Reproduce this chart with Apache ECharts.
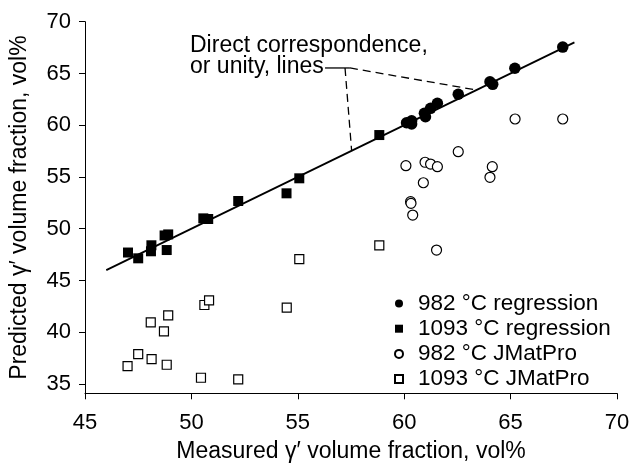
<!DOCTYPE html>
<html>
<head>
<meta charset="utf-8">
<script src="https://cdn.jsdelivr.net/npm/echarts@6/dist/echarts.min.js"></script>
<style>html,body{margin:0;padding:0;background:#fff}#c{width:629px;height:465px}</style>
</head>
<body>
<div id="c"></div>
<script>
// ---- data ----
const reg982 = [
  [67.45,67.55],[65.2,65.5],[64.03,64.2],[64.16,63.95],[62.54,62.99],[61.56,62.12],
  [61.24,61.63],[60.95,61.15],[61.0,60.82],[60.11,60.24],[60.35,60.43],[60.35,60.12]
];
const reg1093 = [
  [58.83,59.05],[55.07,54.87],[54.47,53.42],[52.2,52.68],[50.56,51.0],[50.79,50.94],
  [47.02,47.7],[47.5,47.14],[48.12,48.4],[48.1,47.82],[48.74,49.35],[48.91,49.45],[48.84,47.94]
];
const jmat982 = [
  [65.21,60.6],[67.45,60.6],[62.54,57.44],[60.08,56.09],[60.98,56.42],[61.24,56.25],
  [61.56,55.99],[64.14,55.99],[64.03,54.97],[60.9,54.44],[60.3,52.61],[60.32,52.45],
  [60.4,51.32],[61.52,47.94]
];
const jmat1093 = [
  [55.07,47.07],[54.48,42.37],[50.61,42.63],[50.83,43.08],[48.09,40.96],[48.91,41.63],
  [48.71,40.09],[47.5,37.89],[47.0,36.73],[48.13,37.41],[48.84,36.86],[50.45,35.6],
  [52.2,35.45],[58.83,48.4]
];
const unityLine = [[46,46],[68,68]];
const leaderSolid = [[56.28,65.53],[57.45,65.53]];
const leaderDash1 = [[57.22,65.53],[57.53,57.53]];
const leaderDash2 = [[57.45,65.53],[63.4,63.4]];
const seriesNames = ['982 °C regression','1093 °C regression','982 °C JMatPro','1093 °C JMatPro'];
const yTicks = [35,40,45,50,55,60,65,70];
const annotationText = 'Direct correspondence,\nor unity, lines';
const xTitle = 'Measured γ′ volume fraction, vol%';
const yTitle = 'Predicted γ′ volume fraction, vol%';

const FONT = '"Liberation Sans", Arial, sans-serif';
const chart = echarts.init(document.getElementById('c'));
const lineSeries = (data, type, width) => ({
  type: 'line', data, symbol: 'none', silent: true, animation: false, z: 1,
  lineStyle: { color: '#000', width, type }
});
chart.setOption({
  animation: false,
  backgroundColor: '#fff',
  textStyle: { fontFamily: FONT },
  grid: { left: 85, right: 12, top: 21.7, bottom: 71.7, outerBoundsMode: 'none', containLabel: false },
  xAxis: {
    type: 'value', min: 45, max: 70, interval: 5,
    name: xTitle, nameLocation: 'middle', nameGap: 47,
    nameTextStyle: { fontSize: 23, color: '#000', fontFamily: FONT },
    axisLine: { lineStyle: { color: '#000', width: 1 } },
    axisTick: { show: true, length: 6, inside: false, lineStyle: { color: '#000' } },
    axisLabel: { fontSize: 22, color: '#000', margin: 19, fontFamily: FONT },
    splitLine: { show: false }
  },
  yAxis: {
    type: 'value', min: 34.1, max: 70,
    name: yTitle, nameLocation: 'middle', nameGap: 54, nameRotate: 90,
    nameTextStyle: { fontSize: 23, color: '#000', fontFamily: FONT },
    axisLine: { show: true, lineStyle: { color: '#000', width: 1 } },
    axisTick: { show: true, length: 6, inside: false, customValues: yTicks, lineStyle: { color: '#000' } },
    axisLabel: { fontSize: 22, color: '#000', margin: 14, customValues: yTicks, fontFamily: FONT },
    splitLine: { show: false }
  },
  legend: {
    data: seriesNames, orient: 'vertical', left: 389, top: 287,
    itemWidth: 8, itemHeight: 8, itemGap: 2.2,
    textStyle: { fontSize: 22.5, color: '#000', lineHeight: 22, padding: [0,0,0,10], fontFamily: FONT }
  },
  graphic: [{
    type: 'text', left: 190, top: 34,
    style: { text: annotationText, font: '23px ' + FONT, fill: '#000', lineHeight: 21 }
  }],
  series: [
    lineSeries(unityLine, 'solid', 1.8),
    lineSeries(leaderSolid, 'solid', 1.3),
    lineSeries(leaderDash1, [8,5], 1.3),
    lineSeries(leaderDash2, [8,5], 1.3),
    { name: seriesNames[0], type: 'scatter', symbol: 'circle', symbolSize: 11.5, data: reg982, z: 3,
      itemStyle: { color: '#000', opacity: 1 } },
    { name: seriesNames[1], type: 'scatter', symbol: 'rect', symbolSize: 10, data: reg1093, z: 3,
      itemStyle: { color: '#000', opacity: 1 } },
    { name: seriesNames[2], type: 'scatter', symbol: 'circle', symbolSize: 10, data: jmat982, z: 3,
      itemStyle: { color: '#fff', borderColor: '#000', borderWidth: 1.2, opacity: 1 } },
    { name: seriesNames[3], type: 'scatter', symbol: 'rect', symbolSize: 9, data: jmat1093, z: 3,
      itemStyle: { color: '#fff', borderColor: '#000', borderWidth: 1.2, opacity: 1 } }
  ]
});
</script>
</body>
</html>
